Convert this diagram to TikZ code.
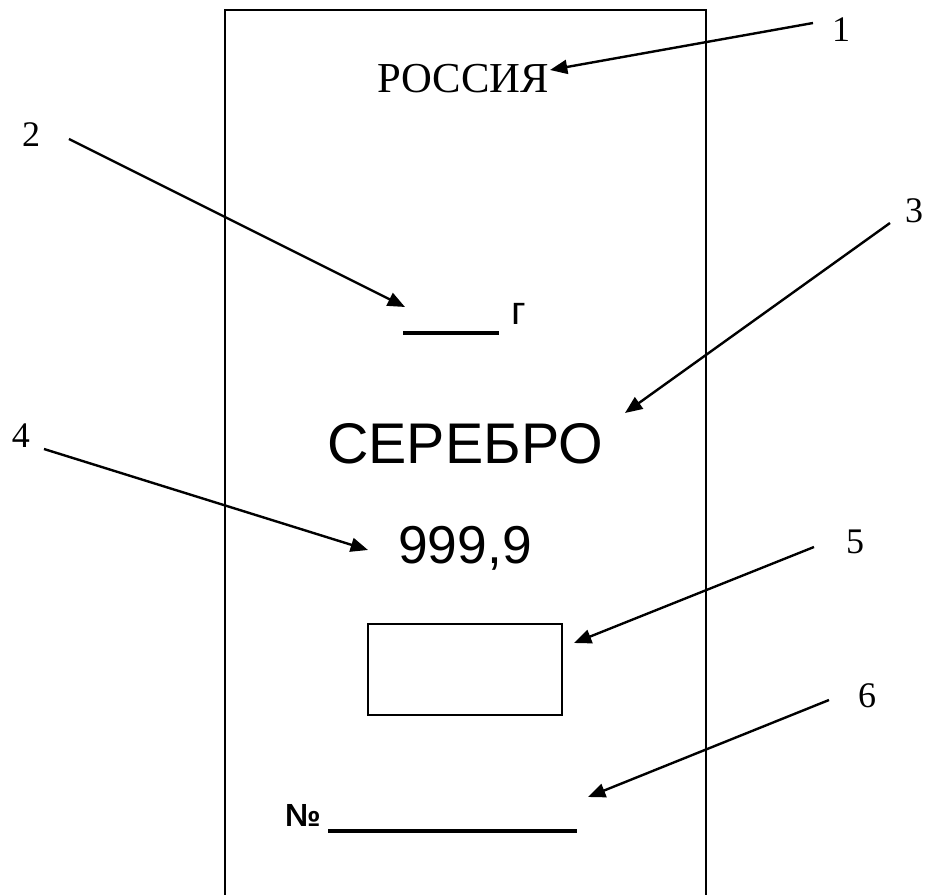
\documentclass[tikz,border=0pt]{standalone}
\usepackage{fontspec}
\setmainfont{Liberation Serif}
\setsansfont{Liberation Sans}
\usetikzlibrary{arrows.meta,positioning}

\begin{document}
\begin{tikzpicture}[x=0.75pt, y=-0.75pt, >={Triangle[length=13pt,width=10.5pt]}]
    \tikzstyle{num} = [inner sep=0pt, anchor=base, font=\fontsize{27}{30}\selectfont]
    \tikzstyle{stamp} = [inner sep=0pt, anchor=base, font=\sffamily\fontsize{43}{48}\selectfont]
    \tikzstyle{line} = [draw, ->, line width=1.8pt]
    \tikzstyle{blank} = [draw, line width=2.4pt]

    \useasboundingbox (0,0) rectangle (929,895);

    % plate outline, open at the bottom
    \draw[line width=2pt] (225,895) -- (225,10) -- (706,10) -- (706,895);

    % inscriptions on the plate
    \node [inner sep=0pt, anchor=base, font=\fontsize{32}{36}\selectfont] (russia) at (463,93) {РОССИЯ};
    \coordinate (yearL) at (403,333);
    \coordinate (yearR) at (499,333);
    \node [inner sep=0pt, anchor=base, font=\sffamily\fontsize{30}{34}\selectfont] (year) at (519,325) {г};
    \node [stamp] (silver) at (465,463) {СЕРЕБРО};
    \node [stamp, font=\sffamily\fontsize{40}{44}\selectfont] (fineness) at (465,563) {999,9};
    \node [draw, line width=1.5pt, minimum width=145.5pt, minimum height=68.25pt] (hallmark) at (465,669.5) {};
    \node [inner sep=0pt, anchor=base, font=\sffamily\bfseries\fontsize{24}{27}\selectfont] (numsign) at (303,826) {№};
    \coordinate (serialL) at (328,831);
    \coordinate (serialR) at (577,831);

    \path [blank] (yearL) -- (yearR);
    \path [blank] (serialL) -- (serialR);

    % callout numbers
    \node [num] (n1) at (841,42) {1};
    \node [num] (n2) at (31,147) {2};
    \node [num] (n3) at (914,223) {3};
    \node [num] (n4) at (21,447) {4};
    \node [num] (n5) at (855,553) {5};
    \node [num] (n6) at (867,707) {6};

    % callout lines
    \coordinate (s1) at (813,23);  \coordinate (t1) at (550,70);
    \coordinate (s2) at (69,139);  \coordinate (t2) at (405,307);
    \coordinate (s3) at (890,223); \coordinate (t3) at (625,413);
    \coordinate (s4) at (44,449);  \coordinate (t4) at (368,550);
    \coordinate (s5) at (814,547); \coordinate (t5) at (574,643);
    \coordinate (s6) at (829,700); \coordinate (t6) at (588,797);

    \path [line] (s1) -- (t1);
    \path [line] (s2) -- (t2);
    \path [line] (s3) -- (t3);
    \path [line] (s4) -- (t4);
    \path [line] (s5) -- (t5);
    \path [line] (s6) -- (t6);
\end{tikzpicture}
\end{document}
